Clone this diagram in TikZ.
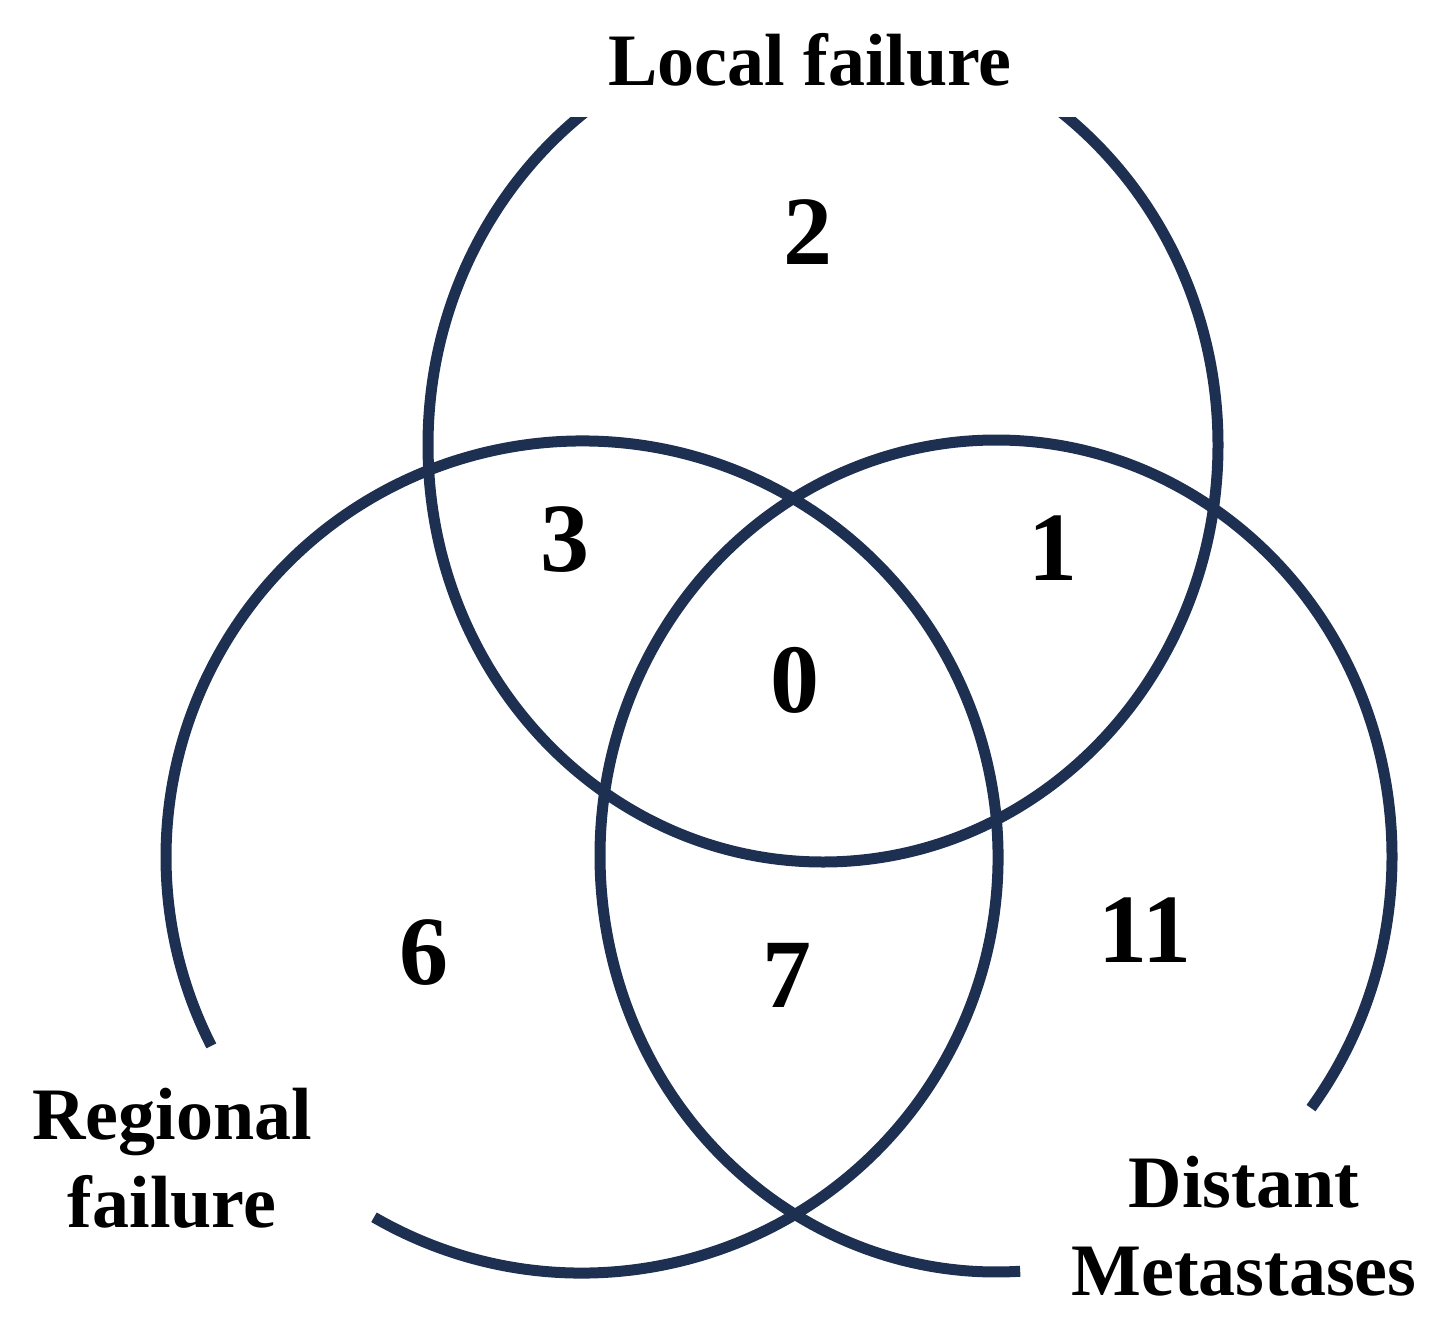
\documentclass[tikz,border=0pt]{standalone}
\usepackage{fontspec}
\setmainfont{Liberation Serif}
\begin{document}
\begin{tikzpicture}[x=1pt,y=1pt,
  ring/.style={line width=11pt,draw={rgb,255:red,30;green,48;blue,82}},
  num/.style={font=\fontsize{98}{98}\selectfont\bfseries},
  lab/.style={font=\fontsize{74}{88}\selectfont\bfseries,align=center}]
\useasboundingbox (0,0) rectangle (1455,-1335);
\coordinate (cL) at (823,-445);
\coordinate (cR) at (582,-857);
\coordinate (cD) at (996,-856);
\begin{scope}
\clip (0,-118) rectangle (1455,-1335);
\draw[ring] (cL) ellipse[x radius=395,y radius=417];
\end{scope}
\draw[ring] ([shift={(240:416)}]cR) arc[start angle=240,end angle=567,radius=416];
\draw[ring] ([shift={({396*cos(-37.3)},{416*sin(-37.3)})}]cD) arc[start angle=-37.3,end angle=273.5,x radius=396,y radius=416];
\node[lab] (tL) at (810,-60) {Local failure};
\node[lab] (tR) at (172,-1158) {Regional\\failure};
\node[lab] (tD) at (1244,-1226) {Distant\\Metastases};
\node[num] (n2) at (808,-232) {2};
\node[num] (n3) at (565,-540) {3};
\node[num] (n1) at (1053,-548) {1};
\node[num] (n0) at (795,-680) {0};
\node[num] (n6) at (424,-953) {6};
\node[num] (n7) at (787,-975) {7};
\node[num] (n11) at (1145,-930) {11};
\end{tikzpicture}
\end{document}
